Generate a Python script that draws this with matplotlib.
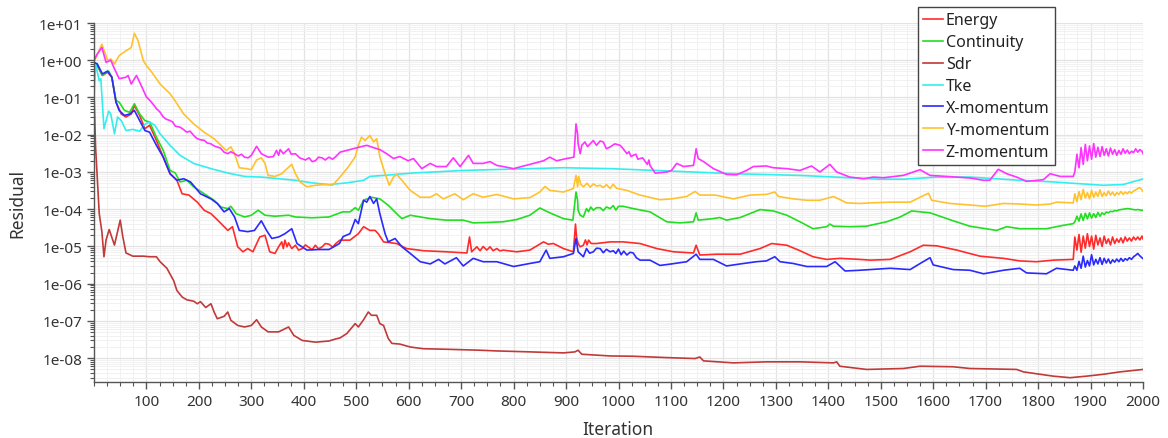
import math
import matplotlib
matplotlib.use("Agg")
import matplotlib.pyplot as plt
from matplotlib.ticker import FixedLocator, MultipleLocator, LogLocator, FuncFormatter, NullFormatter

# ---------------- data (iteration, residual) ----------------
energy = [(0,0.80),(6,0.72),(16,0.39),(26,0.48),(34,0.35),(42,0.075),(52,0.036),(61,0.030),(71,0.036),(77,0.061),
          (87,0.033),(97,0.0145),(106,0.018),(119,0.0070),(132,0.0025),(145,9.0e-4),(158,6.0e-4),(168,2.6e-4),(181,2.4e-4),
          (197,1.55e-4),(210,9.4e-5),(223,7.6e-5),(239,4.6e-5),(255,2.7e-5),(264,3.4e-5),(274,9.8e-6),(284,7.2e-6),(293,8.8e-6),
          (303,7.2e-6),(316,1.8e-5),(326,2.0e-5),(335,7.2e-6),(345,6.5e-6),(352,9.8e-6),(358,1.33e-5),(361,8.8e-6),(364,1.48e-5),
          (368,9.8e-6),(371,1.25e-5),(377,8.8e-6),(384,1.08e-5),(390,8.0e-6),(397,8.8e-6),(403,1.1e-5),(410,9.4e-6),(416,8.2e-6),
          (422,1.08e-5),(428,8.6e-6),(435,9.8e-6),(441,1.2e-5),(448,1.15e-5),(455,9.6e-6),(461,1.2e-5),(469,1.48e-5),(488,1.48e-5),
          (504,2.2e-5),(514,3.4e-5),(526,2.7e-5),(536,2.7e-5),(542,2.2e-5),(552,1.33e-5),(577,1.2e-5),(596,8.8e-6),(628,7.7e-6),
          (672,7.2e-6),(711,6.7e-6),(716,1.8e-5),(720,7.2e-6),(730,9.8e-6),(736,7.7e-6),(742,1.0e-5),(749,8.0e-6),(755,9.8e-6),
          (761,7.7e-6),(768,8.8e-6),(774,7.6e-6),(780,8.0e-6),(806,7.2e-6),(831,8.0e-6),(857,1.33e-5),(866,1.15e-5),(876,1.2e-5),
          (895,8.8e-6),(914,7.2e-6),(918,4.0e-5),(920,1.8e-5),(923,1.2e-5),(927,9.8e-6),(933,1.08e-5),(937,1.5e-5),(940,1.1e-5),
          (943,1.48e-5),(948,1.2e-5),(958,1.2e-5),(984,1.33e-5),(1009,1.33e-5),(1041,1.2e-5),(1073,8.8e-6),(1105,7.2e-6),
          (1143,6.7e-6),(1148,1.08e-5),(1155,5.9e-6),(1187,6.2e-6),(1232,6.2e-6),(1270,8.8e-6),(1292,1.2e-5),(1321,1.08e-5),
          (1346,7.7e-6),(1371,5.3e-6),(1397,4.5e-6),(1422,4.8e-6),(1460,4.5e-6),(1480,4.3e-6),(1518,4.5e-6),(1556,7.2e-6),
          (1581,1.08e-5),(1607,1.04e-5),(1645,8.0e-6),(1689,5.5e-6),(1734,4.8e-6),(1765,4.1e-6),(1797,3.9e-6),(1829,4.3e-6),
          (1867,4.5e-6)]

continuity = [(0,0.80),(6,0.80),(16,0.39),(23,0.48),(28,0.51),(34,0.35),(42,0.083),(48,0.075),(58,0.045),(68,0.040),
              (77,0.068),(87,0.036),(97,0.024),(106,0.022),(119,0.0086),(132,0.0038),(145,0.0011),(155,9.4e-4),(164,5.4e-4),
              (177,6.0e-4),(190,4.0e-4),(210,2.6e-4),(229,1.74e-4),(242,1.15e-4),(255,1.04e-4),(261,1.2e-4),(271,7.6e-5),
              (287,6.2e-5),(300,6.9e-5),(313,9.4e-5),(326,6.9e-5),(345,6.5e-5),(371,6.9e-5),(384,6.2e-5),(416,5.9e-5),
              (448,6.2e-5),(474,8.5e-5),(488,8.5e-5),(498,1.1e-4),(504,9.4e-5),(514,1.74e-4),(529,2.1e-4),(545,1.9e-4),
              (561,1.28e-4),(577,7.6e-5),(587,5.6e-5),(603,6.9e-5),(622,6.2e-5),(641,5.6e-5),(672,5.1e-5),(704,5.1e-5),
              (723,4.3e-5),(749,4.4e-5),(780,4.6e-5),(806,5.3e-5),(831,6.9e-5),(850,1.08e-4),(869,8.0e-5),(895,5.6e-5),
              (913,5.1e-5),(919,2.9e-4),(922,1.74e-4),(923,9.4e-5),(927,6.9e-5),(933,6.2e-5),(939,1.04e-4),(943,8.6e-5),
              (947,1.15e-4),(952,9.4e-5),(958,1.1e-4),(965,1.1e-4),(971,9.2e-5),(977,1.15e-4),(984,1.04e-4),(990,1.25e-4),
              (995,9.5e-5),(1000,1.2e-4),(1009,1.2e-4),(1028,1.04e-4),(1060,8.5e-5),(1092,4.6e-5),(1117,4.3e-5),(1143,4.6e-5),
              (1148,8.0e-5),(1152,5.1e-5),(1181,5.6e-5),(1193,6.0e-5),(1206,5.1e-5),(1232,6.0e-5),(1270,9.8e-5),(1295,9.0e-5),
              (1321,6.9e-5),(1346,4.6e-5),(1371,3.0e-5),(1397,3.4e-5),(1403,4.0e-5),(1410,3.5e-5),(1441,3.4e-5),(1473,3.5e-5),
              (1480,3.7e-5),(1511,4.6e-5),(1537,6.2e-5),(1559,9.0e-5),(1594,8.0e-5),(1638,4.9e-5),(1670,3.5e-5),(1721,2.7e-5),
              (1740,3.4e-5),(1765,3.0e-5),(1816,3.0e-5),(1848,3.7e-5),(1867,4.1e-5)]

sdr = [(0,0.12),(3,4.7e-3),(10,7.6e-5),(15,2.5e-5),(19,5.3e-6),(23,1.5e-5),(29,2.85e-5),(39,1.09e-5),(50,5.1e-5),
       (55,1.8e-5),(61,6.7e-6),(74,5.5e-6),(94,5.5e-6),(106,5.3e-6),(119,5.3e-6),(126,3.9e-6),(139,2.6e-6),(152,1.2e-6),
       (158,6.6e-7),(168,4.4e-7),(177,3.7e-7),(190,3.4e-7),(197,2.9e-7),(203,3.3e-7),(213,2.3e-7),(223,2.9e-7),(229,1.74e-7),
       (235,1.15e-7),(248,1.33e-7),(255,1.74e-7),(261,1.04e-7),(274,7.6e-8),(287,6.9e-8),(300,7.6e-8),(310,1.08e-7),
       (319,6.9e-8),(332,5.1e-8),(352,5.1e-8),(371,6.9e-8),(381,4.1e-8),(397,3.0e-8),(422,2.7e-8),(448,2.9e-8),(461,3.3e-8),
       (469,3.5e-8),(482,4.6e-8),(498,8.5e-8),(504,6.9e-8),(514,1.08e-7),(523,1.74e-7),(529,1.42e-7),(539,1.42e-7),
       (545,8.5e-8),(552,7.6e-8),(561,3.4e-8),(568,2.5e-8),(583,2.4e-8),(603,2.0e-8),(628,1.8e-8),(672,1.74e-8),(736,1.64e-8),
       (768,1.57e-8),(831,1.48e-8),(895,1.39e-8),(917,1.48e-8),(923,1.64e-8),(930,1.28e-8),(984,1.15e-8),(1028,1.13e-8),
       (1092,1.04e-8),(1146,9.8e-9),(1155,1.08e-8),(1162,8.5e-9),(1219,7.5e-9),(1282,8.0e-9),(1346,8.0e-9),(1410,7.5e-9),
       (1416,8.0e-9),(1422,6.1e-9),(1473,5.0e-9),(1543,5.3e-9),(1575,6.1e-9),(1638,5.9e-9),(1670,5.3e-9),(1759,5.0e-9),
       (1772,4.3e-9),(1829,3.3e-9),(1861,3.0e-9),(1892,3.3e-9),(1924,3.7e-9),(1956,4.3e-9),(2000,5.0e-9)]

tke = [(0,0.1),(3,0.80),(10,0.28),(13,0.32),(19,0.0145),(28,0.043),(32,0.036),(39,0.0106),(45,0.030),(52,0.024),
       (61,0.013),(74,0.0139),(87,0.0125),(97,0.019),(106,0.022),(116,0.018),(126,0.0106),(145,0.0052),(164,0.0028),
       (190,0.0017),(223,0.00123),(255,9.4e-4),(287,7.6e-4),(319,7.3e-4),(352,6.6e-4),(384,6.0e-4),(416,5.1e-4),(448,4.6e-4),
       (482,5.1e-4),(514,6.0e-4),(526,7.6e-4),(552,8.1e-4),(609,9.4e-4),(704,1.1e-3),(800,1.2e-3),(895,1.3e-3),(984,1.23e-3),
       (1092,1.07e-3),(1219,9.0e-4),(1346,8.1e-4),(1499,6.4e-4),(1543,6.4e-4),(1607,7.3e-4),(1670,7.3e-4),(1765,6.0e-4),
       (1829,5.4e-4),(1924,4.4e-4),(1962,4.6e-4),(2000,6.5e-4)]

x_momentum = [(0,0.88),(6,0.80),(16,0.43),(26,0.51),(34,0.35),(42,0.075),(48,0.045),(58,0.033),(68,0.036),(77,0.045),
              (87,0.024),(97,0.013),(106,0.0117),(119,0.0052),(132,0.0025),(145,9.0e-4),(158,6.0e-4),(171,6.6e-4),(184,5.4e-4),
              (203,2.6e-4),(223,1.9e-4),(235,1.43e-4),(248,8.5e-5),(258,1.04e-4),(268,6.2e-5),(277,2.7e-5),(293,2.5e-5),
              (306,2.7e-5),(319,4.9e-5),(329,2.7e-5),(339,1.64e-5),(352,1.8e-5),(364,2.2e-5),(377,3.0e-5),(387,1.2e-5),
              (406,8.0e-6),(429,8.3e-6),(448,8.3e-6),(468,1.2e-5),(475,1.85e-5),(488,2.2e-5),(498,5.3e-5),(504,4.1e-5),
              (514,1.74e-4),(520,1.55e-4),(526,2.2e-4),(533,1.43e-4),(539,1.9e-4),(545,7.6e-5),(555,2.2e-5),(561,1.33e-5),
              (574,1.64e-5),(587,9.8e-6),(603,6.5e-6),(622,3.9e-6),(641,3.4e-6),(657,4.5e-6),(669,3.4e-6),(691,5.0e-6),
              (704,3.0e-6),(723,4.8e-6),(742,3.9e-6),(768,3.9e-6),(800,2.9e-6),(831,3.5e-6),(850,3.9e-6),(862,8.0e-6),
              (869,4.8e-6),(895,5.3e-6),(914,6.5e-6),(919,1.64e-5),(923,7.2e-6),(933,5.3e-6),(939,8.8e-6),(945,6.6e-6),
              (952,7.2e-6),(958,9.0e-6),(965,8.8e-6),(971,6.8e-6),(977,8.4e-6),(984,7.2e-6),(990,7.7e-6),(995,6.5e-6),
              (1000,8.5e-6),(1005,6.0e-6),(1010,7.5e-6),(1016,5.9e-6),(1022,7.0e-6),(1028,6.7e-6),(1034,5.0e-6),(1041,4.3e-6),
              (1060,4.3e-6),(1079,3.1e-6),(1101,3.4e-6),(1130,3.9e-6),(1148,6.2e-6),(1155,4.5e-6),(1181,4.5e-6),(1206,3.0e-6),
              (1232,3.4e-6),(1263,3.9e-6),(1282,4.1e-6),(1298,5.3e-6),(1308,3.9e-6),(1333,3.5e-6),(1359,2.9e-6),(1397,2.9e-6),
              (1413,3.9e-6),(1432,2.2e-6),(1460,2.3e-6),(1480,2.4e-6),(1518,2.6e-6),(1556,2.4e-6),(1578,3.7e-6),(1594,5.0e-6),
              (1600,3.2e-6),(1638,2.4e-6),(1670,2.3e-6),(1696,1.85e-6),(1734,2.3e-6),(1765,2.6e-6),(1778,1.95e-6),
              (1816,1.85e-6),(1835,2.6e-6),(1867,2.3e-6)]

y_momentum = [(0,0.9),(15,2.7),(26,1.0),(32,1.08),(39,0.80),(48,1.33),(61,1.8),(71,2.2),(77,5.3),(84,3.35),(94,0.98),
              (100,0.72),(110,0.48),(126,0.23),(145,0.126),(155,0.08),(171,0.036),(190,0.0196),(210,0.0117),(229,0.0078),
              (242,0.0052),(252,0.0038),(261,0.0047),(268,0.0031),(277,0.0013),(290,0.00123),(300,0.00116),(310,0.0021),
              (319,0.0024),(326,0.0017),(332,8.1e-4),(345,7.6e-4),(358,9.0e-4),(368,1.23e-3),(377,1.6e-3),(384,9.0e-4),
              (393,5.4e-4),(406,4.0e-4),(422,4.4e-4),(442,4.6e-4),(455,4.4e-4),(469,7.3e-4),(485,1.38e-3),(498,2.55e-3),
              (504,5.2e-3),(510,8.6e-3),(517,7.0e-3),(526,9.6e-3),(533,6.4e-3),(539,7.8e-3),(545,2.55e-3),(555,9.0e-4),
              (563,4.4e-4),(571,7.3e-4),(577,8.6e-4),(587,6.0e-4),(603,3.2e-4),(622,2.1e-4),(641,2.1e-4),(653,2.6e-4),
              (666,1.9e-4),(688,2.6e-4),(704,1.8e-4),(723,2.6e-4),(742,2.1e-4),(768,2.5e-4),(800,1.9e-4),(831,2.05e-4),
              (850,2.9e-4),(860,4.1e-4),(869,3.2e-4),(895,2.9e-4),(914,3.6e-4),(919,8.1e-4),(922,4.0e-4),(924,7.6e-4),
              (928,4.7e-4),(933,4.0e-4),(940,5.0e-4),(946,3.9e-4),(952,4.8e-4),(958,4.2e-4),(965,4.4e-4),(971,3.8e-4),
              (977,4.6e-4),(984,3.6e-4),(990,4.7e-4),(996,3.7e-4),(1003,3.5e-4),(1016,3.2e-4),(1041,2.4e-4),(1079,1.8e-4),
              (1101,1.9e-4),(1130,2.2e-4),(1146,3.0e-4),(1155,2.4e-4),(1184,2.4e-4),(1219,1.9e-4),(1251,2.4e-4),(1282,2.5e-4),
              (1298,2.9e-4),(1305,2.2e-4),(1333,1.9e-4),(1359,1.74e-4),(1384,1.74e-4),(1410,2.2e-4),(1435,1.48e-4),
              (1460,1.43e-4),(1480,1.48e-4),(1518,1.55e-4),(1556,1.55e-4),(1575,2.1e-4),(1591,2.7e-4),(1597,1.74e-4),
              (1632,1.43e-4),(1670,1.3e-4),(1699,1.2e-4),(1734,1.43e-4),(1765,1.38e-4),(1797,1.3e-4),(1823,1.38e-4),
              (1835,1.55e-4),(1867,1.48e-4)]

z_momentum = [(0,1.0),(6,1.46),(15,2.2),(23,0.88),(32,1.0),(39,0.59),(48,0.32),(61,0.35),(65,0.39),(71,0.23),(81,0.39),
              (90,0.21),(100,0.103),(106,0.085),(112,0.068),(119,0.050),(125,0.042),(132,0.030),(138,0.026),(145,0.024),
              (150,0.022),(155,0.017),(164,0.016),(170,0.014),(177,0.0117),(183,0.0125),(190,0.0096),(196,0.0080),(203,0.0073),
              (210,0.0071),(216,0.0060),(223,0.0057),(229,0.0050),(235,0.0047),(241,0.0044),(248,0.0034),(255,0.0031),
              (261,0.0035),(268,0.0031),(275,0.0027),(281,0.0030),(287,0.0025),(294,0.0024),(300,0.0028),(310,0.0049),(319,0.0031),
              (332,0.0025),(342,0.0026),(348,0.0038),(352,0.0028),(355,0.0040),(361,0.0031),(366,0.0036),(371,0.0042),
              (376,0.0030),(384,0.0031),(392,0.0024),(403,0.0021),(410,0.0024),(416,0.0019),(422,0.0020),(428,0.0025),
              (435,0.0024),(441,0.0021),(448,0.0025),(455,0.0022),(461,0.0026),(469,0.0034),(488,0.0040),(507,0.0047),
              (520,0.0052),(533,0.0045),(545,0.0040),(558,0.0031),(571,0.0023),(583,0.0026),(599,0.0020),(609,0.0023),
              (625,0.00123),(641,0.0017),(653,0.0014),(672,0.0014),(685,0.0024),(698,0.0014),(714,0.0028),(723,0.0017),
              (742,0.0017),(755,0.0019),(768,0.0015),(780,0.0014),(800,0.00123),(819,0.00145),(838,0.0017),(857,0.0020),
              (869,0.0025),(882,0.0020),(901,0.0023),(915,0.0025),(919,0.0196),(922,0.0106),(923,0.0057),(927,0.0031),
              (930,0.0052),(936,0.0064),(941,0.0048),(946,0.0057),(952,0.0070),(958,0.0052),(965,0.0068),(971,0.0064),
              (977,0.0042),(984,0.0047),(993,0.0057),(1003,0.0052),(1009,0.0042),(1016,0.0031),(1020,0.0035),(1024,0.0026),
              (1028,0.0028),(1033,0.0030),(1037,0.0022),(1041,0.0023),(1046,0.0024),(1051,0.0019),(1055,0.0016),(1058,0.0021),
              (1060,0.0015),(1070,9.3e-4),(1092,1.0e-3),(1101,1.1e-3),(1111,0.0017),(1124,0.0014),(1143,0.0015),(1148,0.0042),
              (1152,0.0023),(1162,0.0019),(1181,0.00123),(1206,8.6e-4),(1225,8.4e-4),(1244,1.1e-3),(1257,0.0014),(1282,0.00145),
              (1295,0.0013),(1321,0.00123),(1346,1.1e-3),(1368,0.00145),(1384,1.0e-3),(1403,0.0016),(1416,1.0e-3),(1441,7.3e-4),
              (1467,6.6e-4),(1486,7.3e-4),(1505,7.0e-4),(1543,8.1e-4),(1575,1.15e-3),(1594,8.1e-4),(1626,7.6e-4),(1670,6.9e-4),
              (1696,6.0e-4),(1708,6.0e-4),(1724,1.18e-3),(1740,9.0e-4),(1759,7.3e-4),(1778,5.6e-4),(1810,6.2e-4),(1823,9.0e-4),
              (1842,7.6e-4),(1867,7.6e-4)]

# noisy final stretch (iterations 1870-2000), shared iteration list
tail_it = [1870,1874,1878,1882,1886,1890,1894,1898,1902,1906,1910,1914,1918,1922,1926,1930,1934,
           1938,1942,1946,1950,1954,1958,1962,1966,1970,1974,1978,1982,1986,1990,1994,1998,2000]
energy_tail = [1.8e-5,8e-6,2.1e-5,7e-6,1.9e-5,9e-6,2.2e-5,1.0e-5,1.9e-5,8.5e-6,2.0e-5,1.1e-5,1.7e-5,1.0e-5,1.9e-5,1.2e-5,1.6e-5,
               1.1e-5,1.8e-5,1.2e-5,1.6e-5,1.3e-5,1.7e-5,1.25e-5,1.8e-5,1.4e-5,1.7e-5,1.4e-5,1.8e-5,1.5e-5,1.8e-5,1.5e-5,1.9e-5,1.6e-5]
continuity_tail = [4.6e-5,6.5e-5,4.8e-5,7.5e-5,5.0e-5,7.8e-5,5.5e-5,8.0e-5,5.8e-5,7.6e-5,6.0e-5,8.2e-5,6.5e-5,8.0e-5,7.2e-5,8.4e-5,8.0e-5,
                   8.8e-5,8.6e-5,9.2e-5,9.0e-5,9.6e-5,9.8e-5,1.0e-4,1.02e-4,1.04e-4,1.03e-4,1.0e-4,9.8e-5,9.6e-5,9.8e-5,9.6e-5,9.3e-5,9.4e-5]
x_momentum_tail = [3.0e-6,2.3e-6,4.0e-6,2.6e-6,5.5e-6,2.8e-6,4.2e-6,3.0e-6,6.0e-6,3.2e-6,4.5e-6,3.4e-6,5.0e-6,3.3e-6,4.8e-6,3.6e-6,4.6e-6,
                   3.5e-6,4.4e-6,3.8e-6,4.6e-6,3.9e-6,4.8e-6,4.0e-6,4.7e-6,4.3e-6,5.0e-6,4.5e-6,5.3e-6,5.8e-6,6.5e-6,5.6e-6,5.0e-6,4.7e-6]
y_momentum_tail = [2.6e-4,1.6e-4,3.0e-4,1.8e-4,3.4e-4,2.0e-4,2.8e-4,1.9e-4,3.2e-4,2.1e-4,2.9e-4,2.2e-4,3.3e-4,2.2e-4,2.8e-4,2.3e-4,3.1e-4,
                   2.4e-4,2.9e-4,2.3e-4,2.8e-4,2.5e-4,3.0e-4,2.5e-4,2.9e-4,2.6e-4,3.0e-4,2.7e-4,3.1e-4,3.3e-4,3.6e-4,3.8e-4,3.3e-4,3.0e-4]
z_momentum_tail = [1.0e-3,3.0e-3,1.3e-3,4.5e-3,1.6e-3,5.5e-3,2.0e-3,5.0e-3,2.2e-3,5.8e-3,2.5e-3,4.6e-3,2.6e-3,4.8e-3,2.8e-3,4.2e-3,2.7e-3,
                   4.4e-3,3.0e-3,4.0e-3,2.8e-3,3.8e-3,3.0e-3,4.2e-3,3.2e-3,3.9e-3,3.1e-3,3.6e-3,3.3e-3,4.2e-3,3.4e-3,4.0e-3,3.6e-3,3.1e-3]

labels = ["Energy", "Continuity", "Sdr", "Tke", "X-momentum", "Y-momentum", "Z-momentum"]
series = [energy, continuity, sdr, tke, x_momentum, y_momentum, z_momentum]
tails = [energy_tail, continuity_tail, None, None, x_momentum_tail, y_momentum_tail, z_momentum_tail]
colors = ["#ff2b2b", "#22dd22", "#c03a3a", "#33eeee", "#2a2aff", "#ffc22e", "#ff33ff"]

x_ticks = list(range(100, 2001, 100))
y_decades = [1e-8, 1e-7, 1e-6, 1e-5, 1e-4, 1e-3, 1e-2, 1e-1, 1e0, 1e1]

# ---------------- plot ----------------
plt.rcParams['font.family'] = ['Noto Sans', 'DejaVu Sans']
W, H = 1168, 439
fig = plt.figure(figsize=(W / 100, H / 100), dpi=100)
ax = fig.add_axes([94 / W, 1 - 383 / H, (1143 - 94) / W, (383 - 24) / H])

lines = []
for lab, pts, tail, col in zip(labels, series, tails, colors):
    pts = sorted(pts)
    xs = [p[0] for p in pts]
    ys = [p[1] for p in pts]
    if tail is not None:
        xs += tail_it
        ys += tail
    ln, = ax.plot(xs, ys, color=col, lw=1.2, label=lab, solid_joinstyle='round')
    lines.append(ln)

ax.set_yscale('log')
ax.set_xlim(0, 2000)
ax.set_ylim(2.3e-9, 10)

ax.xaxis.set_major_locator(FixedLocator(x_ticks))
ax.xaxis.set_minor_locator(MultipleLocator(25))
ax.yaxis.set_major_locator(FixedLocator(y_decades))
ax.yaxis.set_minor_locator(LogLocator(base=10, subs=[2, 3, 4, 5, 6, 7, 8, 9], numticks=20))
ax.yaxis.set_minor_formatter(NullFormatter())
ax.yaxis.set_major_formatter(FuncFormatter(lambda v, p: "1e%+03d" % round(math.log10(v))))

ax.grid(which='major', color='#e3e3e3', lw=0.9)
ax.grid(which='minor', color='#f1f1f1', lw=0.7)
ax.set_axisbelow(True)

for s in ['top', 'right']:
    ax.spines[s].set_visible(False)
for s in ['left', 'bottom']:
    ax.spines[s].set_color('#555555')
    ax.spines[s].set_linewidth(1.0)
ax.tick_params(which='major', direction='out', length=5, width=1, color='#555555', labelsize=11, labelcolor='#333333')
ax.tick_params(which='minor', direction='out', length=3, width=0.8, color='#555555')

fig.text(618 / W, 1 - 430 / H, "Iteration", ha='center', va='center', fontsize=12.5, color='#333333')
fig.text(17 / W, 1 - 204 / H, "Residual", ha='center', va='center', rotation=90, fontsize=12.5, color='#333333')

leg = fig.legend(handles=lines, loc='upper left', bbox_to_anchor=(918 / W, 1 - 8 / H),
                 bbox_transform=fig.transFigure, frameon=True, fancybox=False, framealpha=1,
                 edgecolor='#444444', fontsize=11.5, handlelength=1.25, handletextpad=0.15,
                 labelspacing=0.37, borderpad=0.34, borderaxespad=0)
leg.get_frame().set_linewidth(1.0)
for t in leg.get_texts():
    t.set_color('#222222')

fig.savefig("out.png", dpi=100)
